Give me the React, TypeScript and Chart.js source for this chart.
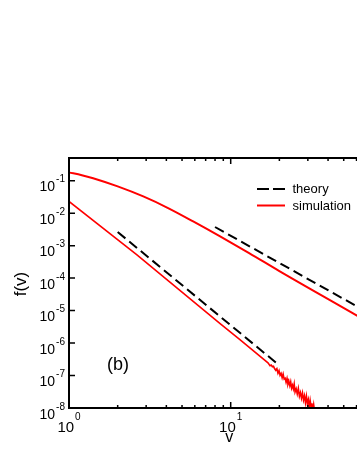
import React, { useEffect, useRef } from "react";
import { Chart, registerables } from "chart.js";

Chart.register(...registerables);

// ---- data ----
// upper simulation curve
const simUpperV = [1, 1.2, 1.41, 2.0, 2.88, 4.1, 5.86, 8.6, 13, 20, 60, 100];
const simUpperF = [0.18, 0.148, 0.119, 0.0668, 0.0328, 0.0144, 0.00558, 0.00193, 5.9e-4, 1.64e-4, 7.1e-6, 1.6e-6];

// lower simulation curve (noisy tail at large v)
const simLowerV = [
  1, 2.62, 8.6, 11.4, 17.0, 17.5, 17.8, 18.1, 18.4, 18.7, 19.0, 19.3, 19.6, 19.9, 20.2, 20.5, 20.8,
  21.1, 21.4, 21.7, 22.0, 22.3, 22.6, 22.9, 23.2, 23.5, 23.8, 24.1, 24.4, 24.7, 25.0, 25.4,
  25.8, 26.2, 26.6, 27.0, 27.4, 27.8, 28.2, 28.6, 29.0, 29.4, 29.8, 30.2, 30.6, 31.0, 31.4,
  31.8, 32.2, 32.6, 33.0,
];
const simLowerF = [
  0.023, 5.26e-4, 3.94e-6, 1.27e-6, 2.45e-7, 2.0e-7, 2.1e-7, 1.86e-7, 1.92e-7, 1.62e-7, 1.45e-7,
  1.62e-7, 1.18e-7, 1.41e-7, 1.02e-7, 1.16e-7, 8.6e-8, 1.12e-7, 7.8e-8, 8.3e-8, 6.2e-8,
  8.1e-8, 5.4e-8, 6.6e-8, 4.9e-8, 6.4e-8, 4.1e-8, 5.0e-8, 3.9e-8, 5.5e-8, 3.1e-8, 3.9e-8,
  2.7e-8, 4.0e-8, 2.3e-8, 3.0e-8, 2.0e-8, 2.9e-8, 1.75e-8, 2.4e-8, 1.45e-8, 2.3e-8,
  1.35e-8, 1.8e-8, 1.05e-8, 1.7e-8, 1.1e-8, 1.4e-8, 8.2e-9, 1.25e-8, 8.0e-9,
];

// theory power laws
const theoryUpperV = [8.0, 100];
const theoryUpperF = [3.75e-3, 3.3e-6];
const theoryLowerV = [2.0, 20.0];
const theoryLowerF = [2.63e-3, 2.05e-7];

// axes
const xMin = 1;
const xMax = 100;
const yMin = 1e-8;
const yMax = 0.5;
const xTickExponents = [0, 1, 2];
const xMinorMultipliers = [2, 3, 4, 5, 6, 7, 8, 9];
const yTickExponents = [-8, -7, -6, -5, -4, -3, -2, -1];
const xTitle = "v";
const yTitle = "f(v)";
const legendLabels = ["theory", "simulation"];
const panelLabel = "(b)";

const FONT = '"Liberation Sans", Arial, Helvetica, sans-serif';
const RED = "#ff0000";
const BLACK = "#000000";

const toPoints = (xs: number[], ys: number[]) => xs.map((x, i) => ({ x, y: ys[i] }));

const decorPlugin = {
  id: "decor",
  afterDatasetsDraw(chart: any) {
    const { ctx, chartArea: ca, scales } = chart;
    const xs = scales.x;
    const ys = scales.y;
    ctx.save();
    ctx.strokeStyle = BLACK;
    ctx.fillStyle = BLACK;

    // ticks (inward)
    ctx.lineWidth = 1.5;
    ctx.beginPath();
    for (let i = 0; i < xTickExponents.length; i++) {
      const e = xTickExponents[i];
      const base = Math.pow(10, e);
      const px = xs.getPixelForValue(base);
      ctx.moveTo(px, ca.bottom);
      ctx.lineTo(px, ca.bottom - 6);
      ctx.moveTo(px, ca.top);
      ctx.lineTo(px, ca.top + 6);
      if (i < xTickExponents.length - 1) {
        for (const m of xMinorMultipliers) {
          const mx = xs.getPixelForValue(m * base);
          ctx.moveTo(mx, ca.bottom);
          ctx.lineTo(mx, ca.bottom - 3);
          ctx.moveTo(mx, ca.top);
          ctx.lineTo(mx, ca.top + 3);
        }
      }
    }
    for (const e of yTickExponents) {
      const py = ys.getPixelForValue(Math.pow(10, e));
      ctx.moveTo(ca.left, py);
      ctx.lineTo(ca.left + 6, py);
      ctx.moveTo(ca.right, py);
      ctx.lineTo(ca.right - 6, py);
    }
    ctx.stroke();

    // frame
    ctx.lineWidth = 2;
    ctx.strokeRect(ca.left, ca.top, ca.right - ca.left, ca.bottom - ca.top);

    // x tick labels
    ctx.textAlign = "left";
    ctx.textBaseline = "alphabetic";
    for (const e of xTickExponents) {
      const px = xs.getPixelForValue(Math.pow(10, e));
      ctx.font = `15px ${FONT}`;
      const wb = ctx.measureText("10").width;
      ctx.font = `10px ${FONT}`;
      const es = String(e);
      const we = ctx.measureText(es).width;
      const start = px - (wb + 1 + we) / 2;
      ctx.font = `15px ${FONT}`;
      ctx.fillText("10", start, ca.bottom + 24);
      ctx.font = `10px ${FONT}`;
      ctx.fillText(es, start + wb + 1, ca.bottom + 12);
    }

    // y tick labels
    for (const e of yTickExponents) {
      const py = ys.getPixelForValue(Math.pow(10, e));
      ctx.font = `14px ${FONT}`;
      const wb = ctx.measureText("10").width;
      ctx.font = `10px ${FONT}`;
      const es = String(e);
      const we = ctx.measureText(es).width;
      const start = ca.left - 4 - we - 1 - wb;
      ctx.font = `14px ${FONT}`;
      ctx.fillText("10", start, py + 10.8);
      ctx.font = `10px ${FONT}`;
      ctx.fillText(es, start + wb + 1, py + 1.5);
    }

    // axis titles
    ctx.font = `16px ${FONT}`;
    ctx.textAlign = "center";
    ctx.fillText(xTitle, (ca.left + ca.right) / 2 - 1.5, ca.bottom + 33.5);
    ctx.save();
    ctx.translate(21.7, (ca.top + ca.bottom) / 2 + 1);
    ctx.rotate(-Math.PI / 2);
    ctx.font = `17px ${FONT}`;
    ctx.textBaseline = "middle";
    ctx.fillText(yTitle, 0, 0);
    ctx.restore();

    // panel label
    ctx.textAlign = "left";
    ctx.textBaseline = "alphabetic";
    ctx.font = `18px ${FONT}`;
    ctx.fillText(panelLabel, 107, 369.5);

    // legend
    ctx.lineWidth = 2;
    ctx.strokeStyle = BLACK;
    ctx.setLineDash([12, 4]);
    ctx.beginPath();
    ctx.moveTo(257, 189);
    ctx.lineTo(285, 189);
    ctx.stroke();
    ctx.setLineDash([]);
    ctx.strokeStyle = RED;
    ctx.beginPath();
    ctx.moveTo(257, 205.5);
    ctx.lineTo(285, 205.5);
    ctx.stroke();
    ctx.font = `13px ${FONT}`;
    ctx.fillStyle = BLACK;
    ctx.fillText(legendLabels[0], 292.5, 193.3);
    ctx.fillText(legendLabels[1], 292.5, 210.3);

    ctx.restore();
  },
};

export default function App() {
  const canvasRef = useRef<HTMLCanvasElement | null>(null);

  useEffect(() => {
    const canvas = canvasRef.current;
    if (!canvas) return;
    const chart = new Chart(canvas, {
      type: "line",
      data: {
        datasets: [
          {
            label: legendLabels[0],
            data: toPoints(theoryUpperV, theoryUpperF),
            borderColor: BLACK,
            borderWidth: 2,
            borderDash: [10, 5],
            pointRadius: 0,
            fill: false,
          },
          {
            label: legendLabels[0],
            data: toPoints(theoryLowerV, theoryLowerF),
            borderColor: BLACK,
            borderWidth: 2,
            borderDash: [10, 5],
            pointRadius: 0,
            fill: false,
          },
          {
            label: legendLabels[1],
            data: toPoints(simUpperV, simUpperF),
            borderColor: RED,
            borderWidth: 2,
            pointRadius: 0,
            fill: false,
            cubicInterpolationMode: "monotone",
          },
          {
            label: legendLabels[1],
            data: toPoints(simLowerV, simLowerF),
            borderColor: RED,
            borderWidth: 1.6,
            pointRadius: 0,
            fill: false,
          },
        ],
      },
      options: {
        animation: false,
        responsive: false,
        events: [],
        layout: { padding: { left: 69, top: 158, right: 7.6, bottom: 54 } },
        scales: {
          x: { type: "logarithmic", min: xMin, max: xMax, display: false },
          y: { type: "logarithmic", min: yMin, max: yMax, display: false },
        },
        plugins: { legend: { display: false }, tooltip: { enabled: false } },
      },
      plugins: [decorPlugin],
    });
    return () => chart.destroy();
  }, []);

  return (
    <div
      style={{
        position: "fixed",
        left: 0,
        top: 0,
        width: 357,
        height: 462,
        overflow: "hidden",
        background: "#ffffff",
      }}
    >
      <canvas ref={canvasRef} width={400} height={462} style={{ display: "block" }} />
    </div>
  );
}
